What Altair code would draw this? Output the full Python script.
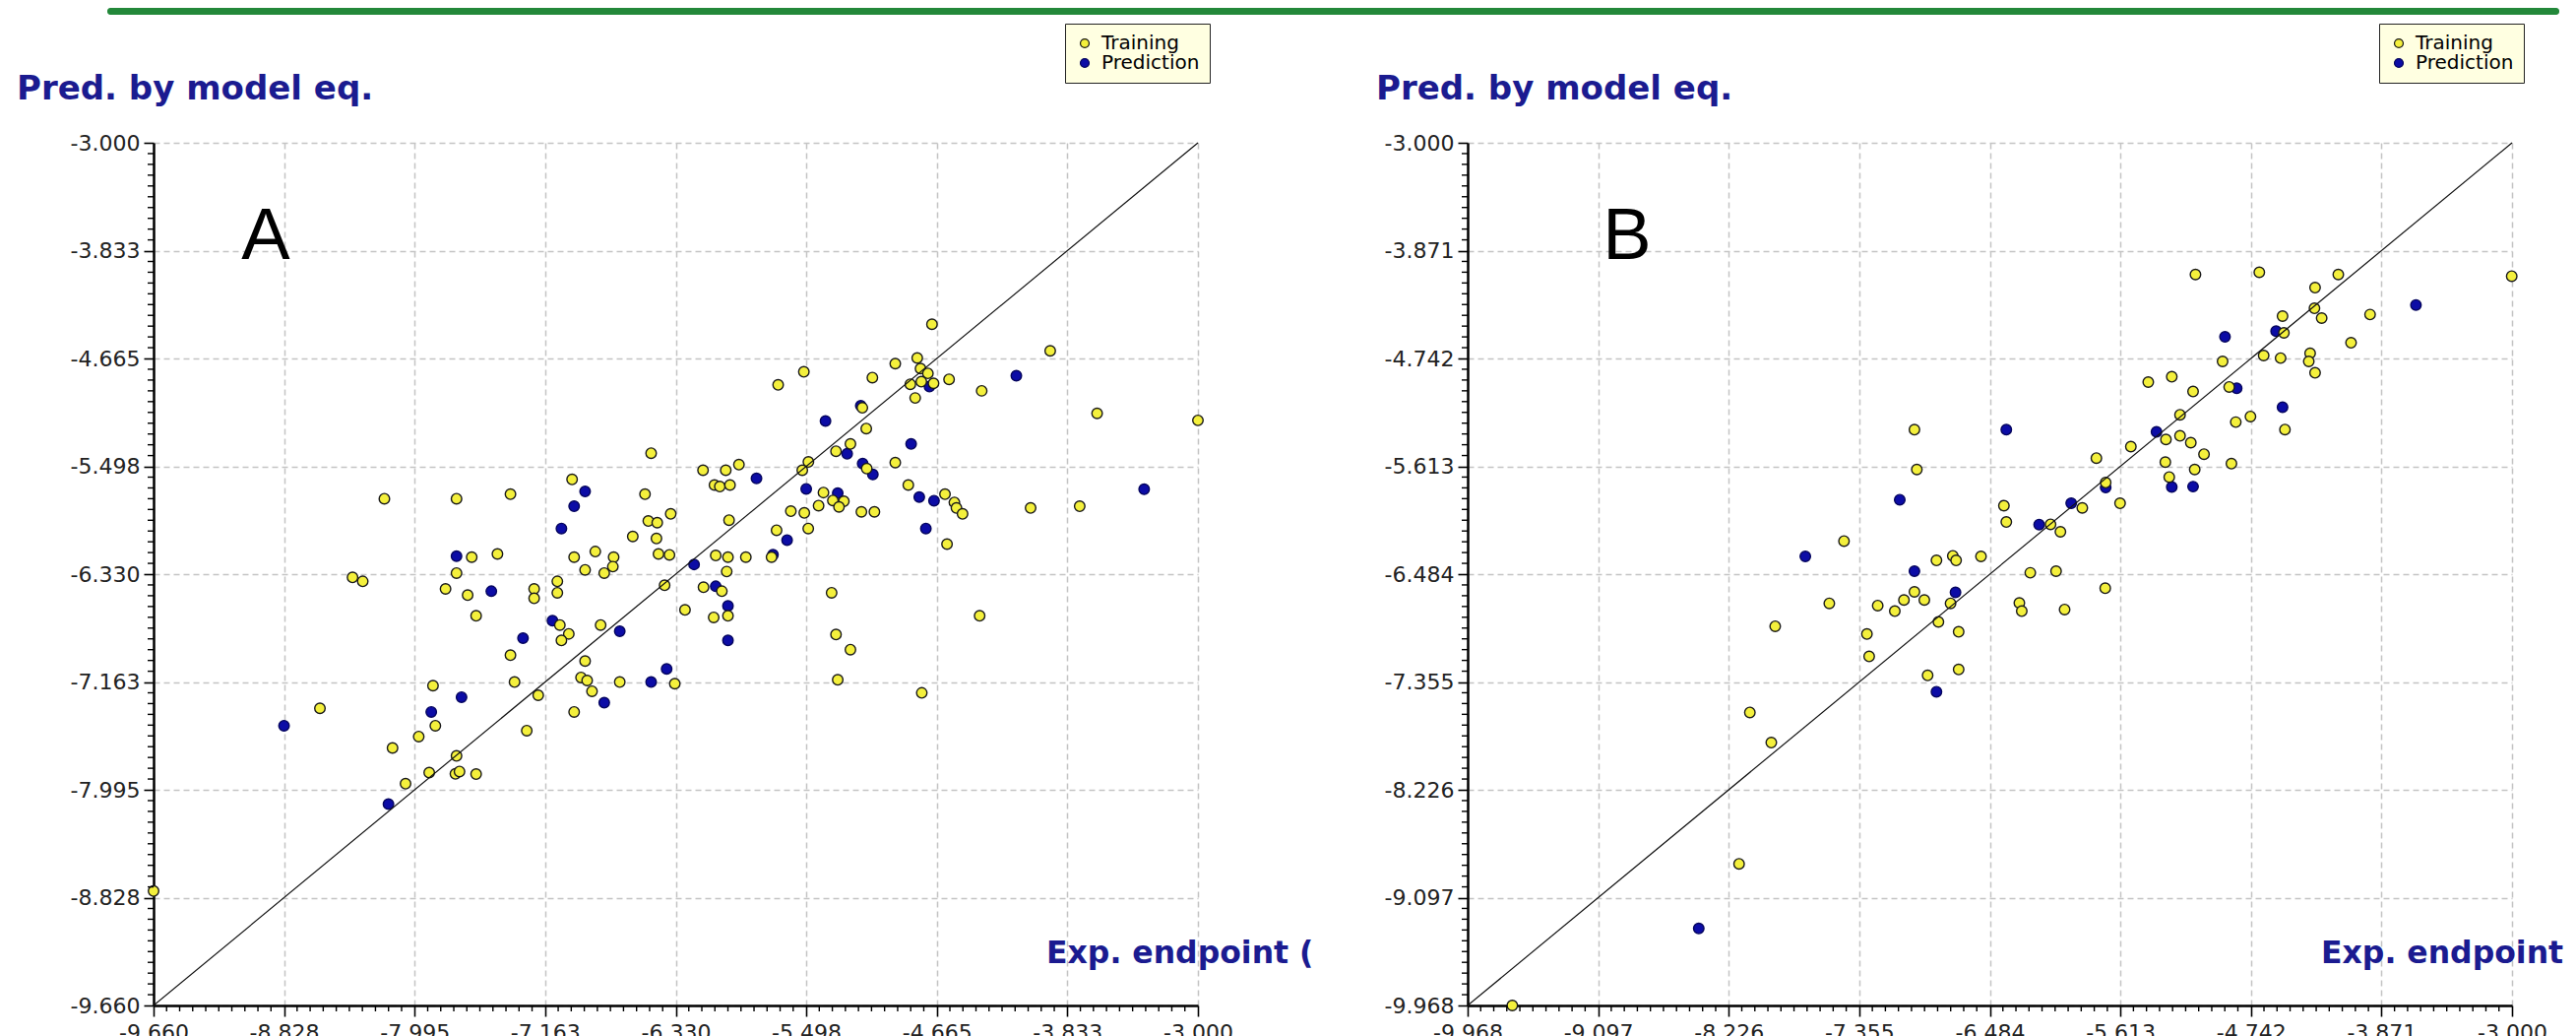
import altair as alt
import pandas as pd

# ---------------- data ----------------
SERIES = ["Training", "Prediction"]

A_TICKS = [-9.660, -8.828, -7.995, -7.163, -6.330, -5.498, -4.665, -3.833, -3.000]
A_TICK_LABELS = ["-9.660", "-8.828", "-7.995", "-7.163", "-6.330", "-5.498", "-4.665", "-3.833", "-3.000"]
B_TICKS = [-9.968, -9.097, -8.226, -7.355, -6.484, -5.613, -4.742, -3.871, -3.000]
B_TICK_LABELS = ["-9.968", "-9.097", "-8.226", "-7.355", "-6.484", "-5.613", "-4.742", "-3.871", "-3.000"]

A_TRAIN_X = [-6.487, -6.156, -6.011, -6.083, -6.049, -5.984, -8.188, -7.728, -7.384, -6.991,
             -6.526, -6.362, -6.505, -6.448, -6.604, -6.453, -5.990, -6.440, -6.370, -6.843,
             -6.726, -6.978, -7.631, -7.467, -6.075, -5.997,
             -7.728, -8.391, -8.326, -7.798, -7.657, -7.603, -7.233, -7.233, -7.085, -7.085,
             -6.731, -6.908, -6.786, -6.401, -6.005, -6.153, -6.036, -6.271, -6.088, -5.997,
             -7.069, -7.012, -7.059, -6.809, -7.384, -6.908, -6.934, -6.895, -6.864, -6.687,
             -6.336, -7.358, -7.207, -6.978, -7.280, -7.878, -7.863, -7.969, -8.136, -8.599,
             -7.728, -7.902, -7.735, -7.709, -7.603, -8.053,
             -4.696, -3.942, -4.930, -4.790, -4.769, -4.722, -4.834, -4.764, -4.686, -4.587,
             -4.803, -4.379, -5.076, -5.513, -5.677, -3.643, -3.000, -5.140, -5.115, -5.216,
             -5.308, -5.484, -5.523, -4.930, -5.112, -5.927, -5.388, -5.328, -5.258, -5.419,
             -5.289, -5.596, -5.510, -5.146, -5.063, -4.847, -4.613, -4.553, -4.540, -4.501,
             -4.600, -4.067, -3.754, -5.485, -5.687, -5.883, -5.719,
             -5.336, -4.392, -5.308, -5.216, -5.297, -4.761, -9.660]
A_TRAIN_Y = [-5.396, -5.528, -5.528, -5.642, -5.654, -5.642, -5.748, -5.748, -5.713, -5.599,
             -5.713, -5.865, -5.920, -5.933, -6.039, -6.055, -5.913, -6.174, -6.181, -6.156,
             -6.199, -6.199, -6.199, -6.174, -6.186, -6.199,
             -6.322, -6.355, -6.386, -6.444, -6.492, -6.652, -6.444, -6.517, -6.386, -6.474,
             -6.272, -6.297, -6.322, -6.416, -6.310, -6.431, -6.462, -6.606, -6.664, -6.652,
             -6.723, -6.791, -6.842, -6.723, -6.956, -7.001, -7.128, -7.151, -7.234, -7.163,
             -7.176, -7.163, -7.265, -7.394, -7.538, -7.191, -7.500, -7.584, -7.672, -7.366,
             -7.733, -7.862, -7.872, -7.854, -7.874, -7.948,
             -4.401, -4.606, -4.705, -4.661, -4.743, -4.780, -4.864, -4.844, -4.857, -4.826,
             -4.970, -4.915, -4.813, -4.768, -4.869, -5.089, -5.143, -5.046, -5.206, -5.325,
             -5.381, -5.464, -5.528, -5.469, -5.515, -5.485, -5.700, -5.761, -5.768, -5.801,
             -5.811, -5.844, -5.857, -5.849, -5.849, -5.642, -5.713, -5.776, -5.819, -5.865,
             -6.098, -5.819, -5.806, -5.978, -5.991, -6.199, -6.199,
             -6.474, -6.652, -6.796, -6.913, -7.146, -7.247, -8.777]
A_PRED_X = [-6.908, -6.978, -7.059, -7.728, -6.213, -7.506, -6.075, -5.997, -5.997, -7.116,
            -6.687, -7.304, -6.786, -6.487, -6.388, -7.696, -7.889, -8.828, -8.162, -4.158,
            -4.712, -5.150, -5.375, -4.829, -5.237, -5.138, -5.073, -5.815, -5.498, -5.297,
            -4.777, -4.683, -4.735, -3.343, -5.620, -5.710]
A_PRED_Y = [-5.692, -5.806, -5.978, -6.191, -6.255, -6.462, -6.424, -6.576, -6.842, -6.690,
            -6.771, -6.824, -7.323, -7.163, -7.062, -7.280, -7.394, -7.500, -8.105, -4.798,
            -4.882, -5.030, -5.148, -5.325, -5.401, -5.477, -5.561, -5.591, -5.672, -5.705,
            -5.735, -5.763, -5.978, -5.675, -6.067, -6.180]

B_TRAIN_X = [-6.987, -6.971, -6.390, -6.374, -7.457, -6.840, -6.731, -6.709, -6.543, -6.987,
             -7.057, -6.921, -6.746, -7.232, -7.118, -7.555, -7.916, -7.304, -6.827, -6.692,
             -7.289, -6.899, -6.692, -8.085, -7.942, -8.157, -9.670,
             -5.112, -4.686, -4.159, -3.002, -4.314, -4.318, -4.270, -3.947, -4.531, -4.522,
             -4.074, -4.657, -4.544, -4.347, -4.356, -4.314, -4.931, -5.427, -5.270, -5.128,
             -4.887, -4.515, -4.745, -4.843, -5.215, -5.309, -5.215, -5.143, -5.055, -5.543,
             -5.773, -5.313, -5.287, -5.117, -4.872, -5.711, -5.615, -5.867, -6.079, -6.013,
             -6.214, -6.042, -5.714, -6.287, -6.271, -5.985]
B_TRAIN_Y = [-5.317, -5.639, -5.931, -6.063, -6.217, -6.373, -6.336, -6.373, -6.341, -6.627,
             -6.693, -6.693, -6.720, -6.738, -6.783, -6.720, -6.905, -6.968, -6.870, -6.950,
             -7.149, -7.302, -7.254, -7.601, -7.845, -8.824, -9.968,
             -4.064, -4.046, -4.064, -4.077, -4.170, -4.337, -4.416, -4.387, -4.400, -4.535,
             -4.615, -4.718, -4.739, -4.700, -4.766, -4.858, -4.766, -4.933, -4.890, -5.009,
             -4.972, -5.316, -5.211, -5.256, -5.197, -5.396, -5.367, -5.422, -5.515, -5.454,
             -5.547, -5.579, -5.700, -5.639, -5.592, -5.745, -5.912, -5.949, -6.082, -6.142,
             -6.473, -6.460, -6.598, -6.717, -6.783, -6.770]
B_PRED_X = [-7.085, -6.374, -7.715, -6.987, -6.713, -6.840, -8.426, -3.641, -4.574, -4.915,
            -4.837, -4.531, -5.372, -5.270, -5.128, -5.711, -5.941, -6.155]
B_PRED_Y = [-5.883, -5.317, -6.341, -6.460, -6.632, -7.434, -9.346, -4.310, -4.522, -4.567,
            -4.983, -5.136, -5.335, -5.780, -5.777, -5.785, -5.912, -6.084]

# ---------------- style ----------------
YELLOW = "#f4f03c"
BLUE = "#0c0ca6"
TITLE_BLUE = "#1b1b90"
GREEN = "#23883a"
GRID = "#c4c4c4"
W, H = 1061, 876


def minor_values(ticks):
    out = []
    for a, b in zip(ticks[:-1], ticks[1:]):
        for k in range(1, 10):
            out.append(round(a + (b - a) * k / 10.0, 6))
    return out


def make_axis(ticks, labels, orient):
    arr = "[" + ",".join(str(t) for t in ticks) + "]"
    labs = "[" + ",".join("'%s'" % s for s in labels) + "]"
    return alt.Axis(
        orient=orient,
        values=list(ticks),
        title=None,
        labelExpr="%s[indexof(%s, datum.value)]" % (labs, arr),
        labelFont="DejaVu Sans",
        labelFontSize=22,
        labelColor="#222222",
        labelPadding=6 if orient == "bottom" else 4,
        labelFlush=False,
        labelOverlap=False,
        tickSize=11 if orient == "bottom" else 10,
        tickColor="black",
        tickWidth=1.6,
        domainColor="black",
        domainWidth=2.5,
        grid=True,
        gridColor=GRID,
        gridDash=[6, 4],
        gridWidth=1.5,
    )


def text_layer(txt, x, y, size, color, weight="normal", font="DejaVu Sans", align="left"):
    return alt.Chart(pd.DataFrame({"t": [txt]})).mark_text(
        font=font, fontSize=size, fontWeight=weight, color=color,
        align=align, baseline="alphabetic",
    ).encode(text="t:N", x=alt.value(x), y=alt.value(y))


def panel(ticks, labels, tx, ty, px, py, letter, letter_x, title_x, exp_txt, exp_x, g1, g2):
    lo, hi = ticks[0], ticks[-1]
    sx = alt.Scale(domain=[lo, hi], nice=False, zero=False)
    sy = alt.Scale(domain=[lo, hi], nice=False, zero=False)
    df = pd.DataFrame({
        "x": list(px) + list(tx),
        "y": list(py) + list(ty),
        "set": [SERIES[1]] * len(px) + [SERIES[0]] * len(tx),
    })
    pts = alt.Chart(df).mark_point(
        shape="circle", size=112, strokeWidth=1.4, opacity=1, fillOpacity=1
    ).encode(
        x=alt.X("x:Q", scale=sx, axis=make_axis(ticks, labels, "bottom")),
        y=alt.Y("y:Q", scale=sy, axis=make_axis(ticks, labels, "left")),
        fill=alt.Fill(
            "set:N",
            scale=alt.Scale(domain=SERIES, range=[YELLOW, BLUE]),
            legend=alt.Legend(
                title=None, orient="none", legendX=926, legendY=-121,
                fillColor="#ffffe1", strokeColor="#222222", padding=10,
                labelFont="DejaVu Sans", labelFontSize=20, labelColor="black",
                symbolType="circle", symbolSize=80, symbolStrokeColor="#222222",
                symbolStrokeWidth=1.2, rowPadding=0, labelOffset=7,
            ),
        ),
        stroke=alt.Stroke(
            "set:N",
            scale=alt.Scale(domain=SERIES, range=["#1a1a1a", "#05055e"]),
            legend=None,
        ),
    )
    minor = pd.DataFrame({"v": minor_values(ticks)})
    xminor = alt.Chart(minor).mark_rule(color="black", strokeWidth=1.4).encode(
        x=alt.X("v:Q", scale=sx), y=alt.value(H), y2=alt.value(H + 6)
    )
    yminor = alt.Chart(minor).mark_rule(color="black", strokeWidth=1.4).encode(
        y=alt.Y("v:Q", scale=sy), x=alt.value(0), x2=alt.value(-6)
    )
    diag = alt.Chart(pd.DataFrame({"x": [lo, hi], "y": [lo, hi]})).mark_line(
        color="#111111", strokeWidth=1.2
    ).encode(
        x=alt.X("x:Q", scale=sx),
        y=alt.Y("y:Q", scale=sy),
    )
    green = alt.Chart(pd.DataFrame({"k": [0]})).mark_rect(
        color=GREEN, cornerRadius=3
    ).encode(x=alt.value(g1), x2=alt.value(g2), y=alt.value(-137), y2=alt.value(-130))
    title = text_layer("Pred. by model eq.", title_x, -44, 34, TITLE_BLUE, weight="bold")
    let = text_layer(letter, letter_x, 118, 74, "black", font="Liberation Sans", align="center")
    exp = text_layer(exp_txt, exp_x, 833, 31.5, TITLE_BLUE, weight="bold")
    return alt.layer(pts, diag, xminor, yminor, green, title, let, exp).properties(width=W, height=H)


chart_a = panel(A_TICKS, A_TICK_LABELS, A_TRAIN_X, A_TRAIN_Y, A_PRED_X, A_PRED_Y,
                "A", 114, -139, "Exp. endpoint (", 907, -47, 1164)
chart_b = panel(B_TICKS, B_TICK_LABELS, B_TRAIN_X, B_TRAIN_Y, B_PRED_X, B_PRED_Y,
                "B", 162, -93, "Exp. endpoint", 867, -181, 1109)

chart = alt.hconcat(chart_a, chart_b, spacing=274, bounds="flush").resolve_scale(
    fill="independent", stroke="independent"
).resolve_legend(fill="independent", stroke="independent").properties(
    padding={"left": 9, "top": 0, "right": 0, "bottom": 0},
    background="white",
).configure_view(stroke=None)

chart.save("out.html", embed_options={"renderer": "svg", "actions": False})
